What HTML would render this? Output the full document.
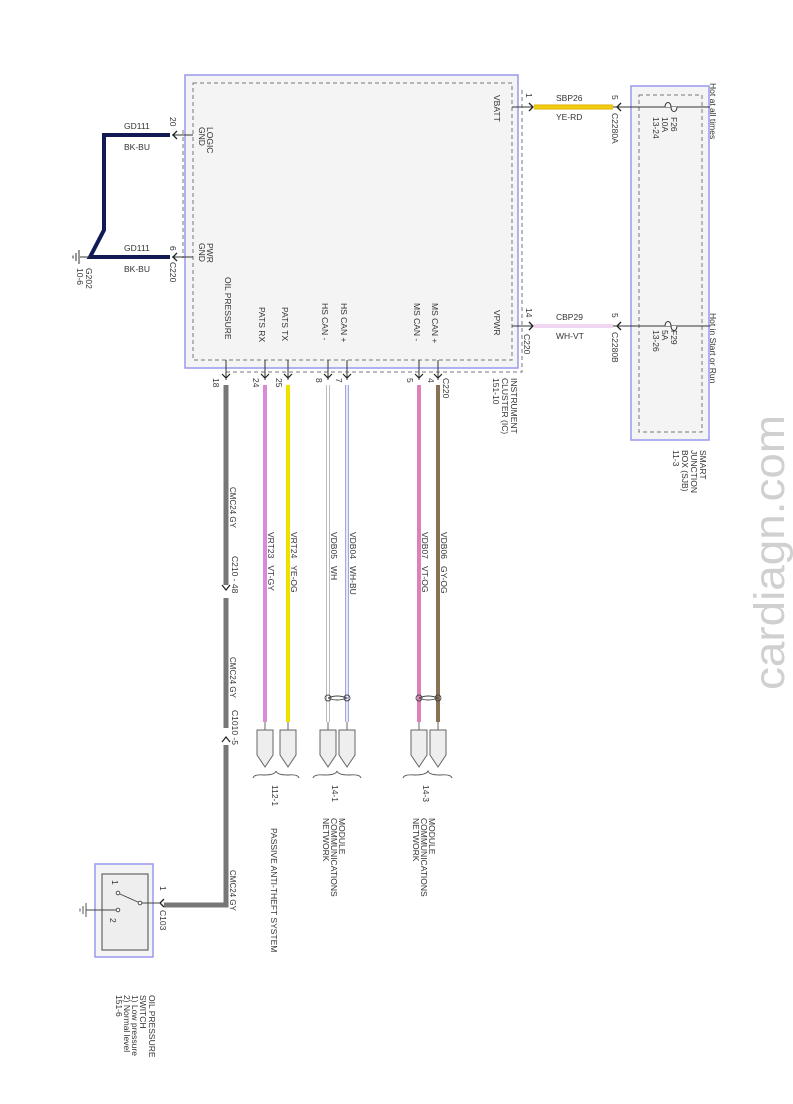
<!DOCTYPE html>
<html><head><meta charset="utf-8"><style>
html,body{margin:0;padding:0;background:#fff;}
svg{display:block;font-family:"Liberation Sans",sans-serif;}
text{font-size:8.5px;fill:#333;}
.s{font-size:8px;}
</style></head><body>
<svg width="793" height="1104" viewBox="0 0 793 1104" xmlns="http://www.w3.org/2000/svg">
<defs>
<g id="arrD"><path d="M-4,-4 L0,0 L4,-4" fill="none" stroke="#222" stroke-width="1.2"/></g>
</defs>
<rect x="185" y="75" width="333" height="293" fill="#f4f4f4" stroke="#9999ee" stroke-width="1.5"/>
<rect x="193" y="83" width="319" height="277" fill="none" stroke="#777" stroke-dasharray="4,3"/>
<path d="M183,130 V258 M522,90 V372 H225" fill="none" stroke="#777" stroke-dasharray="4,3"/>
<rect x="631" y="86" width="78" height="354" fill="#f4f4f4" stroke="#9999ee" stroke-width="1.5"/>
<rect x="639" y="95" width="63" height="337" fill="none" stroke="#777" stroke-dasharray="4,3"/>

<path d="M512,107 H532 M613,107 H710" stroke="#333" stroke-width="1"/>
<path d="M529,103 L533,107 L529,111" fill="none" stroke="#222" stroke-width="1.3"/>
<path d="M621,103 L617,107 L621,111" fill="none" stroke="#222" stroke-width="1.3"/>
<line x1="534" y1="107" x2="613" y2="107" stroke="#e0b000" stroke-width="5"/>
<line x1="534" y1="107" x2="613" y2="107" stroke="#f2cc10" stroke-width="3"/>
<path d="M665,107 c0,-6 6,-6 6,0 c0,6 6,6 6,0" fill="#f4f4f4" stroke="#333"/>
<path d="M512,326 H532 M613,326 H710" stroke="#333" stroke-width="1"/>
<path d="M529,322 L533,326 L529,330" fill="none" stroke="#222" stroke-width="1.3"/>
<path d="M621,322 L617,326 L621,330" fill="none" stroke="#222" stroke-width="1.3"/>
<line x1="534" y1="326" x2="613" y2="326" stroke="#f0d6f0" stroke-width="4"/>
<path d="M665,326 c0,-6 6,-6 6,0 c0,6 6,6 6,0" fill="#f4f4f4" stroke="#333"/>

<path d="M193,135 H172 M193,257 H172" stroke="#333"/>
<path d="M177,131 L173,135 L177,139 M177,253 L173,257 L177,261" fill="none" stroke="#222" stroke-width="1.3"/>
<path d="M170,135 H104 V230 L90,257 H170" fill="none" stroke="#111a55" stroke-width="4"/>
<path d="M90,257 H80 M79,250 V264 M76,253 V261 M73,255.5 V258.5" stroke="#333"/>

<g stroke="#333">
<line x1="226" y1="360" x2="226" y2="380"/><line x1="265" y1="360" x2="265" y2="380"/>
<line x1="288" y1="360" x2="288" y2="380"/><line x1="328" y1="360" x2="328" y2="380"/>
<line x1="347" y1="360" x2="347" y2="380"/><line x1="419" y1="360" x2="419" y2="380"/>
<line x1="438" y1="360" x2="438" y2="380"/>
</g>
<use href="#arrD" x="226" y="378"/><use href="#arrD" x="265" y="378"/><use href="#arrD" x="288" y="378"/>
<use href="#arrD" x="328" y="378"/><use href="#arrD" x="347" y="378"/><use href="#arrD" x="419" y="378"/><use href="#arrD" x="438" y="378"/>

<line x1="265" y1="385" x2="265" y2="722" stroke="#d98ad9" stroke-width="4"/>
<line x1="288" y1="385" x2="288" y2="722" stroke="#f0e000" stroke-width="4"/>
<line x1="328" y1="385" x2="328" y2="722" stroke="#999" stroke-width="3.5"/>
<line x1="328" y1="385" x2="328" y2="722" stroke="#fff" stroke-width="2.2"/>
<line x1="347" y1="385" x2="347" y2="722" stroke="#8888dd" stroke-width="3.5"/>
<line x1="347" y1="385" x2="347" y2="722" stroke="#fff" stroke-width="1.6"/>
<line x1="419" y1="385" x2="419" y2="722" stroke="#e080b8" stroke-width="4"/>
<line x1="438" y1="385" x2="438" y2="722" stroke="#8a7055" stroke-width="4"/>
<g fill="none" stroke="#444" stroke-width="0.9">
<ellipse cx="328" cy="698" rx="3" ry="3"/><ellipse cx="347" cy="698" rx="3" ry="3"/><path d="M328,698 Q337,694 347,698 Q337,702 328,698"/>
<ellipse cx="419" cy="698" rx="3" ry="3"/><ellipse cx="438" cy="698" rx="3" ry="3"/><path d="M419,698 Q428,694 438,698 Q428,702 419,698"/>
</g>
<g fill="#eee" stroke="#666">
<path d="M265,722 V730" /><path d="M257,730 H273 V755 L265,767 L257,755 Z"/>
<path d="M288,722 V730" /><path d="M280,730 H296 V755 L288,767 L280,755 Z"/>
<path d="M328,722 V730" /><path d="M320,730 H336 V755 L328,767 L320,755 Z"/>
<path d="M347,722 V730" /><path d="M339,730 H355 V755 L347,767 L339,755 Z"/>
<path d="M419,722 V730" /><path d="M411,730 H427 V755 L419,767 L411,755 Z"/>
<path d="M438,722 V730" /><path d="M430,730 H446 V755 L438,767 L430,755 Z"/>
</g>
<g fill="none" stroke="#555" stroke-width="0.9">
<path d="M253,778 Q254,774 264,775 Q275,775 276,771 Q277,775 288,775 Q298,774 299,778"/>
<path d="M313,778 Q314,774 325,775 Q336,775 337,771 Q338,775 349,775 Q360,774 361,778"/>
<path d="M403,778 Q404,774 415,775 Q426,775 428,771 Q429,775 440,775 Q451,774 452,778"/>
</g>

<line x1="226" y1="385" x2="226" y2="585" stroke="#777" stroke-width="5"/>
<path d="M222,585 L226,590 L230,585" fill="none" stroke="#222" stroke-width="1.2"/>
<line x1="226" y1="598" x2="226" y2="728" stroke="#777" stroke-width="5"/>
<path d="M222,742 L226,737 L230,742" fill="none" stroke="#222" stroke-width="1.2"/>
<path d="M226,745 V905 H164" fill="none" stroke="#777" stroke-width="5"/>
<path d="M164,899 L160,903 L164,907" fill="none" stroke="#222" stroke-width="1.3"/>

<rect x="95" y="864" width="58" height="93" fill="#f4f4f4" stroke="#9999ee" stroke-width="1.5"/>
<rect x="102" y="874" width="46" height="76" fill="#eee" stroke="#666" stroke-width="1.2"/>
<g stroke="#444" fill="#fff" stroke-width="0.9">
<line x1="140" y1="903" x2="160" y2="903"/>
<line x1="140" y1="903" x2="120" y2="894"/>
<line x1="118" y1="910" x2="86" y2="910"/>
<circle cx="118" cy="893" r="1.8"/><circle cx="140" cy="903" r="1.8"/><circle cx="118" cy="910" r="1.8"/>
<path d="M86,903 V917 M83,906 V914 M80,908.5 V911.5" fill="none"/>
</g>

<text x="124" y="129">GD111</text><text x="124" y="150">BK-BU</text>
<text x="124" y="251">GD111</text><text x="124" y="272">BK-BU</text>
<text x="556" y="101">SBP26</text><text x="556" y="120">YE-RD</text>
<text x="556" y="320">CBP29</text><text x="556" y="339">WH-VT</text>

<g>
<text transform="translate(170,117) rotate(90)">20</text>
<text transform="translate(170,246) rotate(90)">6</text>
<text transform="translate(170,262) rotate(90)">C220</text>
<text transform="translate(207,127) rotate(90)">LOGIC</text>
<text transform="translate(199,127) rotate(90)">GND</text>
<text transform="translate(207,243) rotate(90)">PWR</text>
<text transform="translate(199,243) rotate(90)">GND</text>
<text transform="translate(86,268) rotate(90)">G202</text>
<text transform="translate(77,268) rotate(90)">10-6</text>
<text transform="translate(225,277) rotate(90)">OIL PRESSURE</text>
<text transform="translate(259,307) rotate(90)">PATS RX</text>
<text transform="translate(282,307) rotate(90)">PATS TX</text>
<text transform="translate(322,303) rotate(90)">HS CAN -</text>
<text transform="translate(341,303) rotate(90)">HS CAN +</text>
<text transform="translate(414,303) rotate(90)">MS CAN -</text>
<text transform="translate(432,303) rotate(90)">MS CAN +</text>
<text transform="translate(494,310) rotate(90)">VPWR</text>
<text transform="translate(494,95) rotate(90)">VBATT</text>
<text transform="translate(526,93) rotate(90)">1</text>
<text transform="translate(526,308) rotate(90)">14</text>
<text transform="translate(524,334) rotate(90)">C220</text>
<text transform="translate(612,95) rotate(90)">5</text>
<text transform="translate(612,113) rotate(90)">C2280A</text>
<text transform="translate(612,313) rotate(90)">5</text>
<text transform="translate(612,332) rotate(90)">C2280B</text>
<text transform="translate(671,117) rotate(90)">F26</text>
<text transform="translate(662,117) rotate(90)">10A</text>
<text transform="translate(653,117) rotate(90)">13-24</text>
<text transform="translate(671,330) rotate(90)">F29</text>
<text transform="translate(662,330) rotate(90)">5A</text>
<text transform="translate(653,330) rotate(90)">13-26</text>
<text transform="translate(710,83) rotate(90)">Hot at all times</text>
<text transform="translate(710,313) rotate(90)">Hot in Start or Run</text>
<text transform="translate(700,450) rotate(90)">SMART</text>
<text transform="translate(691,450) rotate(90)">JUNCTION</text>
<text transform="translate(682,450) rotate(90)">BOX (SJB)</text>
<text transform="translate(673,450) rotate(90)">11-3</text>
<text transform="translate(511,378) rotate(90)">INSTRUMENT</text>
<text transform="translate(502,378) rotate(90)">CLUSTER (IC)</text>
<text transform="translate(493,378) rotate(90)">151-10</text>
<text transform="translate(213,378) rotate(90)">18</text>
<text transform="translate(253,378) rotate(90)">24</text>
<text transform="translate(276,378) rotate(90)">25</text>
<text transform="translate(316,378) rotate(90)">8</text>
<text transform="translate(336,378) rotate(90)">7</text>
<text transform="translate(407,378) rotate(90)">5</text>
<text transform="translate(428,378) rotate(90)">4</text>
<text transform="translate(443,378) rotate(90)">C220</text>
<text class="s" transform="translate(230,487) rotate(90)">CMC24 GY</text>
<text transform="translate(268,532) rotate(90)">VRT23 &#160; VT-GY</text>
<text transform="translate(291,532) rotate(90)">VRT24 &#160; YE-OG</text>
<text transform="translate(331,532) rotate(90)">VDB05 &#160; WH</text>
<text transform="translate(350,532) rotate(90)">VDB04 &#160; WH-BU</text>
<text transform="translate(422,532) rotate(90)">VDB07 &#160; VT-OG</text>
<text transform="translate(441,532) rotate(90)">VDB06 &#160; GY-OG</text>
<text transform="translate(232,556) rotate(90)">C210 - 48</text>
<text class="s" transform="translate(230,657) rotate(90)">CMC24 GY</text>
<text transform="translate(232,710) rotate(90)">C1010 -5</text>
<text class="s" transform="translate(230,870) rotate(90)">CMC24 GY</text>
<text transform="translate(272,785) rotate(90)">112-1</text>
<text transform="translate(332,785) rotate(90)">14-1</text>
<text transform="translate(423,785) rotate(90)">14-3</text>
<text transform="translate(271,828) rotate(90)">PASSIVE ANTI-THEFT SYSTEM</text>
<text transform="translate(339,818) rotate(90)">MODULE</text>
<text transform="translate(331,818) rotate(90)">COMMUNICATIONS</text>
<text transform="translate(323,818) rotate(90)">NETWORK</text>
<text transform="translate(429,818) rotate(90)">MODULE</text>
<text transform="translate(421,818) rotate(90)">COMMUNICATIONS</text>
<text transform="translate(413,818) rotate(90)">NETWORK</text>
<text transform="translate(160,886) rotate(90)">1</text>
<text transform="translate(160,910) rotate(90)">C103</text>
<text transform="translate(112,880) rotate(90)">1</text>
<text transform="translate(110,918) rotate(90)">2</text>
<text transform="translate(149,995) rotate(90)">OIL PRESSURE</text>
<text transform="translate(140,995) rotate(90)">SWITCH</text>
<text transform="translate(132,995) rotate(90)">1) Low pressure</text>
<text transform="translate(124,995) rotate(90)">2) Normal level</text>
<text transform="translate(116,995) rotate(90)">151-6</text>
</g>
<text transform="translate(784,690) rotate(-90)" style="font-size:43px;fill:#d0d0d0" textLength="275" lengthAdjust="spacingAndGlyphs">cardiagn.com</text>
</svg>
</body></html>
